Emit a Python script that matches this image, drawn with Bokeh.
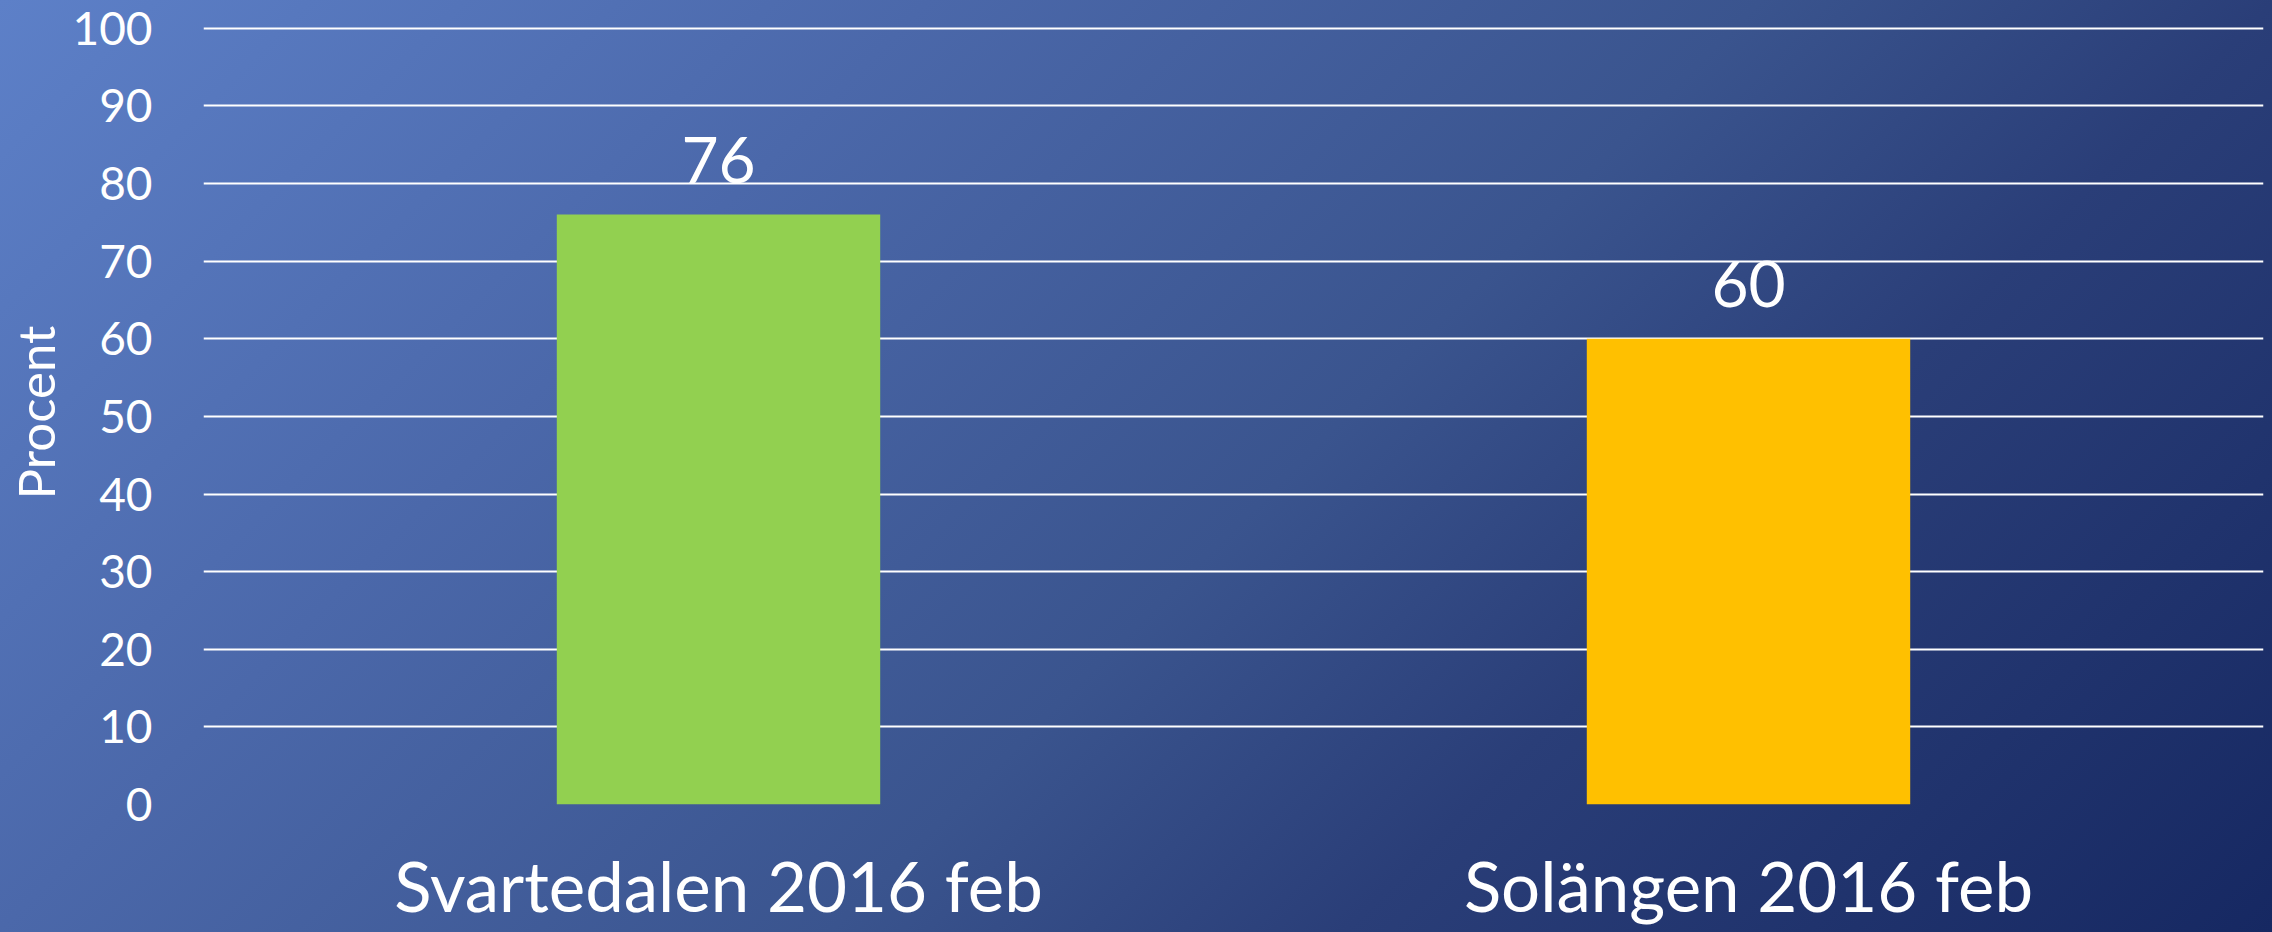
from bokeh.plotting import figure
from bokeh.models import Range1d, FactorRange, ColumnDataSource, FixedTicker
from bokeh.core.properties import value
from bokeh.embed import file_html
from bokeh.resources import INLINE

categories = ["Svartedalen 2016 feb", "Solängen 2016 feb"]
values = [76, 60]
bar_colors = ["#92D050", "#FFC000"]
value_labels = ["76", "60"]
y_ticks = [0, 10, 20, 30, 40, 50, 60, 70, 80, 90, 100]

src = ColumnDataSource(dict(cat=categories, val=values, color=bar_colors, label=value_labels))

FONT = "Lato"

p = figure(
    x_range=FactorRange(*categories),
    y_range=Range1d(0, 101),
    width=2272, height=932,
    output_backend="svg", toolbar_location=None,
    min_border_left=203, min_border_right=9,
    min_border_top=20, min_border_bottom=128,
)

p.background_fill_color = None
p.border_fill_color = None
p.outline_line_color = None
p.styles = {
    "background": "linear-gradient(135deg, #5d80c8 0%, #4b68aa 29%, #3a548e 55%, #2a3e78 71%, #162862 100%)"
}

p.vbar(x="cat", top="val", width=0.314, bottom=0, source=src,
       fill_color="color", line_color=None)

p.text(x="cat", y="val", text="label", source=src,
       text_align="center", text_baseline="alphabetic", y_offset=-55,
       text_color="white", text_font=value(FONT), text_font_size="64px")

# grid
p.xgrid.visible = False
p.ygrid.grid_line_color = "white"
p.ygrid.grid_line_width = 2

# y axis
p.yaxis.ticker = FixedTicker(ticks=y_ticks)
p.yaxis.axis_line_color = None
p.yaxis.major_tick_line_color = None
p.yaxis.minor_tick_line_color = None
p.yaxis.major_label_text_color = "white"
p.yaxis.major_label_text_font = FONT
p.yaxis.major_label_text_font_size = "46px"
p.yaxis.major_label_standoff = 45
p.yaxis.axis_label = "Procent"
p.yaxis.axis_label_text_color = "white"
p.yaxis.axis_label_text_font = FONT
p.yaxis.axis_label_text_font_size = "51px"
p.yaxis.axis_label_text_font_style = "normal"
p.yaxis.axis_label_standoff = 3

# x axis
p.xaxis.axis_line_color = None
p.xaxis.major_tick_line_color = None
p.xaxis.minor_tick_line_color = None
p.xaxis.major_label_text_color = "white"
p.xaxis.major_label_text_font = FONT
p.xaxis.major_label_text_font_size = "69px"
p.xaxis.major_label_standoff = 33

open("out.html", "w").write(file_html(p, INLINE))
